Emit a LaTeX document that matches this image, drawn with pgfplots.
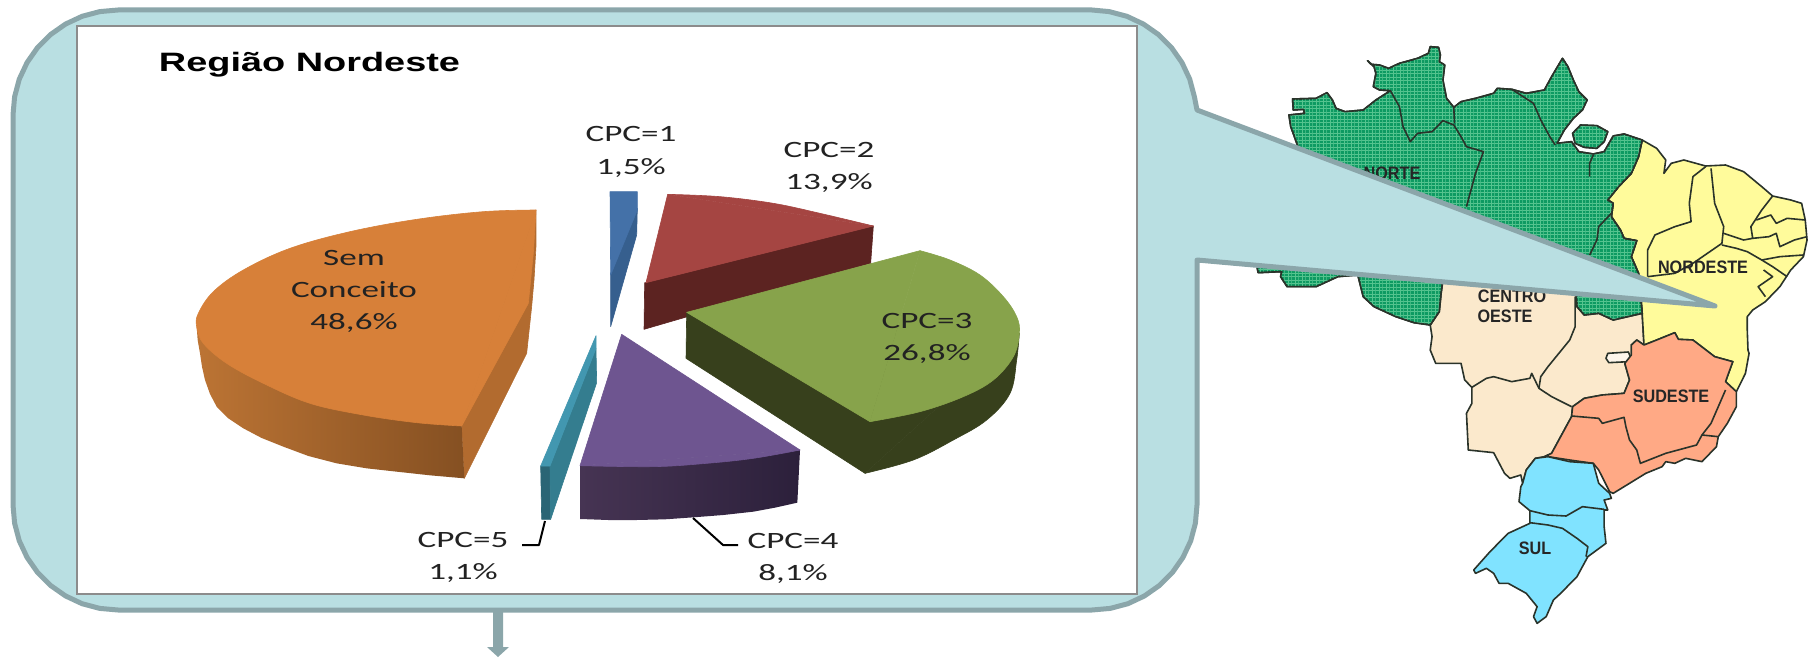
\documentclass[border=0pt]{standalone}
\usepackage{graphicx}
\usepackage{fontspec}
\setmainfont{Carlito}
\newfontfamily\mapfont{Liberation Sans}
\usepackage{pgfplots}
\pgfplotsset{compat=1.18}
\usetikzlibrary{patterns}

% Fine mesh laid over the northern region
\pgfdeclarepatternformonly{minigrid}{\pgfqpoint{-0.1pt}{-0.1pt}}{\pgfqpoint{1.75pt}{1.75pt}}{\pgfqpoint{1.75pt}{1.75pt}}{%
  \pgfsetlinewidth{0.45pt}
  \pgfpathmoveto{\pgfqpoint{0pt}{0pt}}\pgfpathlineto{\pgfqpoint{1.75pt}{0pt}}
  \pgfpathmoveto{\pgfqpoint{0pt}{0pt}}\pgfpathlineto{\pgfqpoint{0pt}{1.75pt}}
  \pgfusepath{stroke}}

\definecolor{calloutfill}{HTML}{B9DFE2}
\definecolor{calloutline}{HTML}{8BA6AA}
\definecolor{framegray}{HTML}{8C8C8C}
\definecolor{ink}{HTML}{222222}
\definecolor{mapline}{HTML}{2A332A}
\definecolor{norte}{HTML}{0E9A62}
\definecolor{nortemesh}{HTML}{56C48F}
\definecolor{nordeste}{HTML}{FFFB9B}
\definecolor{centro}{HTML}{FBE9CC}
\definecolor{sudeste}{HTML}{FFA985}
\definecolor{sul}{HTML}{80E3FF}
\definecolor{semTop}{HTML}{D78039}
\definecolor{semInner}{HTML}{B26B2F}
\definecolor{semSideL}{HTML}{BC7434}
\definecolor{semSideR}{HTML}{855022}
\definecolor{oneTop}{HTML}{4471A8}
\definecolor{oneSide}{HTML}{365F8E}
\definecolor{twoTop}{HTML}{A54542}
\definecolor{twoSide}{HTML}{5C2321}
\definecolor{threeTop}{HTML}{87A34B}
\definecolor{threeSide}{HTML}{37401C}
\definecolor{fourTop}{HTML}{6E5590}
\definecolor{fourSideL}{HTML}{463453}
\definecolor{fourSideR}{HTML}{2C203B}
\definecolor{fiveTop}{HTML}{4297B0}
\definecolor{fiveFace}{HTML}{347D8F}
\definecolor{fiveSide}{HTML}{2A6575}

% Local drawing grids around the origins of the pie and of the map
\pgfplotsset{
  zo/.style={x filter/.expression={x/3+150}, y filter/.expression={y/3+100}},
  zp/.style={x filter/.expression={x/3+520}, y filter/.expression={y/3+100}},
  zn/.style={x filter/.expression={x/2.76+1240}, y filter/.expression={y/3+30}},
  zs/.style={x filter/.expression={x/2.76+1240}, y filter/.expression={y/3+300}},
  border/.style={draw=mapline, line width=0.8pt, fill=none, line join=round},
  area/.style={draw=mapline, line width=0.8pt, line join=round, fill=#1},
  arc/.style={smooth, tension=0.6, draw=#1, line width=0.3pt, fill=#1},
  flat/.style={draw=#1, line width=0.3pt, line join=round, fill=#1},
}
\newcommand{\lab}[3]{\node[anchor=base, text=ink, inner sep=0pt, font=\fontsize{11.7}{12}\selectfont] at (axis cs:#1,#2) {\scalebox{1.5}[1]{#3}};}
\newcommand{\reg}[4]{\node[anchor=center, text=black!85, inner sep=0pt, font=\mapfont\bfseries\fontsize{9}{10}\selectfont] at (axis cs:#1,#2) {\scalebox{#3}[1]{#4}};}

\begin{document}
\begin{tikzpicture}
\path[use as bounding box] (0,0) rectangle (904pt,329pt);
\begin{axis}[
  at={(0,0)}, anchor=south west,
  scale only axis, width=904pt, height=329pt,
  xmin=0, xmax=1808, ymin=0, ymax=658, y dir=reverse,
  hide axis, clip=false,
]
% ---- map of the regions ----
\addplot[zn, area=centro] coordinates {
 (555,740)(555,780)(545,850)(525,885)(530,920)(525,960)(540,1000)(610,1000)(620,1050)(640,1072)(640,1120)(625,1150)(630,1260)(700,1268)(730,1330)(745,1345)(775,1335)(780,1360)(790,1320)(815,1285)(840,1280)(860,1270)(890,1210)(915,1160)(918,1130)(950,1105)(1000,1095)(1060,1090)(1075,1050)(1062,1000)(1080,975)(1080,945)(1095,930)(1115,945)(1110,850)(1110,740)} --cycle;
\addplot[zn, border] coordinates {(925,800)(925,890)(910,930)(880,970)(850,1010)(830,1040)(825,1075)};
\addplot[zn, border] coordinates {(640,1072)(680,1045)(700,1040)(750,1055)(800,1045)(805,1030)(825,1075)(860,1100)(915,1130)};
\addplot[zs, area=centro!40!white] coordinates {(1015,160)(1072,156)(1078,172)(1072,185)(1018,188)(1010,175)} --cycle;

\addplot[zn, area=nordeste] coordinates {
 (1110,330)(1150,355)(1175,390)(1170,430)(1190,400)(1225,390)(1285,408)(1340,405)(1390,425)(1440,470)(1470,498)(1520,510)(1550,520)(1560,570)(1565,630)(1555,680)(1520,720)(1490,770)(1450,815)(1415,840)(1400,860)(1400,900)(1402,960)(1405,970)(1395,1030)(1370,1085)(1340,1055)(1360,995)(1310,980)(1250,930)(1210,928)(1200,908)(1150,930)(1115,945)(1110,850)(1100,730)(1080,680)(1095,632)(1060,625)(1050,600)(1025,560)(1030,520)(1015,510)(1045,470)(1080,430)(1100,380)} --cycle;
\addplot[zn, border] coordinates {(1285,410)(1250,440)(1240,520)(1245,575)(1200,590)(1145,615)(1125,660)(1125,740)};
\addplot[zn, border] coordinates {(1300,415)(1310,520)(1335,590)(1330,640)(1290,670)(1250,700)(1200,730)(1125,740)};
\addplot[zn, border] coordinates {(1335,610)(1390,630)(1415,625)(1410,590)(1440,540)(1470,498)};
\addplot[zn, border] coordinates {(1425,570)(1465,555)(1480,580)(1510,565)(1560,570)};
\addplot[zn, border] coordinates {(1415,625)(1460,620)(1480,610)(1490,650)(1530,630)(1565,620)};
\addplot[zn, border] coordinates {(1330,645)(1370,655)(1400,665)(1440,690)(1490,680)(1555,675)};
\addplot[zn, border] coordinates {(1440,690)(1470,710)(1510,740)};
\addplot[zn, border] coordinates {(1445,720)(1470,740)(1430,770)(1450,800)};

\addplot[zn, area=norte, postaction={pattern=minigrid, pattern color=nortemesh}] coordinates {
 (145,207)(210,205)(240,188)(255,210)(265,235)(290,245)(340,240)(375,210)(415,182)(385,180)(368,170)(375,130)(370,110)(352,92)(362,103)(385,105)(410,115)(440,100)(490,85)(520,70)(525,50)(548,52)(553,75)(550,95)(565,105)(560,150)(570,205)(590,232)(610,215)(650,205)(700,190)(710,175)(750,178)(790,190)(840,180)(860,140)(890,85)(905,110)(920,150)(935,185)(958,210)(945,240)(920,265)(895,300)(875,340)(915,335)(935,365)(975,372)(1005,365)(1030,318)(1060,312)(1110,330)(1100,380)(1080,430)(1045,470)(1015,510)(1030,520)(1025,560)(1050,600)(1060,625)(1095,632)(1080,680)(1100,730)(1110,850)(1070,860)(1030,870)(990,850)(950,855)(930,830)(925,750)(560,750)(555,790)(550,845)(525,885)(480,878)(430,860)(370,830)(340,800)(325,735)(270,740)(210,770)(180,770)(130,770)(112,740)(115,725)(50,728)(45,700)(160,350)(140,290)(135,255)(178,250)(175,238)(147,240)} --cycle;
\addplot[zn, area=norte, postaction={pattern=minigrid, pattern color=nortemesh}] coordinates {
 (918,310)(940,285)(985,287)(1015,305)(1005,335)(985,355)(950,352)(925,340)} --cycle;
\addplot[zn, border] coordinates {(415,182)(440,230)(450,290)(470,335)(490,310)(530,305)(560,272)(590,285)(610,320)(625,350)(672,365)(650,430)(625,530)};
\addplot[zn, border] coordinates {(590,232)(592,280)};
\addplot[zn, border] coordinates {(750,178)(810,220)(830,270)(855,320)(870,345)};
\addplot[zn, border] coordinates {(965,440)(965,400)(975,375)};
\addplot[zn, border] coordinates {(1025,550)(990,590)(985,630)(965,675)};

\addplot[zn, area=sudeste] coordinates {
 (918,1130)(950,1105)(1000,1095)(1060,1090)(1075,1050)(1062,1000)(1080,975)(1080,945)(1095,930)(1115,945)(1150,930)(1200,908)(1210,928)(1250,930)(1310,980)(1360,995)(1340,1055)(1370,1085)(1370,1130)(1345,1180)(1320,1220)(1315,1250)(1275,1295)(1230,1285)(1200,1300)(1175,1295)(1165,1310)(1120,1330)(1060,1370)(1030,1390)(1020,1385)(990,1320)(975,1300)(910,1290)(850,1280)(840,1280)(860,1270)(890,1210)(915,1160)} --cycle;
\addplot[zn, border] coordinates {(915,1158)(990,1165)(1000,1180)(1060,1162)(1065,1190)(1075,1230)(1095,1260)(1105,1300)(1175,1270)(1260,1245)(1275,1215)(1320,1220)};
\addplot[zn, border] coordinates {(1340,1080)(1320,1130)(1300,1180)(1275,1215)};

\addplot[zs, area=sul] coordinates {
 (780,550)(790,510)(815,475)(850,470)(910,485)(975,490)(990,550)(1020,580)(1025,595)(1005,600)(1015,630)(1005,630)(1005,680)(1010,730)(960,770)(930,830)(885,880)(865,900)(845,950)(820,970)(810,950)(820,920)(790,880)(740,850)(715,850)(700,820)(680,805)(650,820)(645,810)(690,755)(740,700)(800,670)(800,632)(770,605)(775,560)} --cycle;
\addplot[zs, border] coordinates {(800,632)(850,645)(900,648)(945,620)(1005,628)};
\addplot[zs, border] coordinates {(800,668)(850,675)(890,685)(930,715)(960,740)(955,770)};

\reg{1392}{173}{0.9}{NORTE}
\reg{1703}{267}{0.9}{NORDESTE}
\reg{1512}{296}{0.9}{CENTRO}
\reg{1505}{316}{0.9}{OESTE}
\reg{1671}{396}{0.9}{SUDESTE}
\reg{1535}{548}{0.9}{SUL}

% ---- arrow below the balloon ----
\addplot[fill=calloutline, draw=none] coordinates {(493,605)(503,605)(503,647)(509,647)(498,657)(487,647)(493,647)} --cycle;

% ---- balloon with its pointer ----
\addplot[fill=calloutfill, draw=calloutline, line width=2.5pt, line join=round] coordinates {
 (13,115)(14.6,96.8)(19.3,79.1)(27.1,62.5)(37.6,47.5)(50.5,34.6)(65.5,24.1)(82.1,16.3)(99.8,11.6)(118,10)
 (1092,10)(1109.2,11.6)(1126.9,16.3)(1143.5,24.1)(1158.5,34.6)(1171.4,47.5)(1181.9,62.5)(1189.7,79.1)(1194.4,96.8)(1197,110)
 (1715,306)(1197,260)
 (1197,505)(1195.4,523.2)(1190.7,540.9)(1182.9,557.5)(1172.4,572.5)(1159.5,585.4)(1144.5,595.9)(1127.9,603.7)(1110.2,608.4)(1092,610)
 (118,610)(99.8,608.4)(82.1,603.7)(65.5,595.9)(50.5,585.4)(37.6,572.5)(27.1,557.5)(19.3,540.9)(14.6,523.2)(13,505)} --cycle;

% ---- chart panel ----
\addplot[fill=white, draw=framegray, line width=1pt] coordinates {(77,26)(1137,26)(1137,594)(77,594)} --cycle;

\node[anchor=base, inner sep=0pt, text=black, font=\mapfont\bfseries\fontsize{13.3}{14}\selectfont] at (axis cs:309.5,72) {\scalebox{1.425}[1]{Região Nordeste}};

% ---- Sem Conceito 48,6%: inner cut, rim, then the top (curved sector and wedge) ----
\addplot[zo, flat=semInner] coordinates {(1158,330)(1158,440)(1152,540)(1145,620)(1130,760)(943,1135)(935,978)} --cycle;
\addplot[zo, left color=semSideL, right color=semSideR, draw=none] coordinates {
 (140,680)(143,720)(150,760)(156,800)(165,840)(180,882)(200,920)(235,955)(280,985)(335,1014)(400,1040)(475,1068)(560,1090)(650,1105)(740,1115)(840,1126)(943,1135)(935,978)} --cycle;
\addplot[zo, arc=semTop] coordinates {
 (1158,330)(1000,335)(800,358)(600,395)(420,445)(280,510)(190,575)(145,640)(140,680)(160,730)(230,790)(340,850)(480,910)(640,945)(800,968)(935,978)};
\addplot[zo, flat=semTop] coordinates {(935,978)(1135,610)(1150,460)(1158,330)} --cycle;

% ---- CPC=1 1,5% ----
\addplot[zp, flat=oneSide] coordinates {(352,325)(350,405)(272,680)(272,520)} --cycle;
\addplot[zp, flat=oneTop] coordinates {(270,275)(352,275)(352,330)(272,525)} --cycle;

% ---- CPC=2 13,9% ----
\addplot[zp, flat=twoSide] coordinates {(378,548)(1060,378)(1052,490)(372,688)(374,548)} --cycle;
\addplot[zp, flat=twoTop] coordinates {(443,283)(1060,378)(378,548)} --cycle;
\addplot[zp, arc=twoTop] coordinates {(443,283)(600,290)(760,310)(900,340)(1060,378)};

% ---- CPC=3 26,8% ----
\addplot[zp, flat=threeSide] coordinates {(500,637)(1498,700)(1035,1120)(498,775)} --cycle;
\addplot[zp, arc=threeSide] coordinates {(1498,700)(1490,780)(1470,880)(1400,960)(1300,1020)(1180,1080)(1035,1120)};
\addplot[zp, flat=threeTop] coordinates {(1200,452)(1050,965)(500,637)} --cycle;
\addplot[zp, arc=threeTop] coordinates {
 (1200,452)(1290,480)(1380,525)(1450,590)(1490,650)(1498,700)(1480,770)(1420,840)(1330,890)(1200,935)(1050,965)};

% ---- CPC=4 8,1% ----
\addplot[zp, left color=fourSideL, right color=fourSideR, draw=none] coordinates {
 (180,1097)(840,1050)(832,1208)(765,1223)(700,1235)(610,1245)(520,1252)(435,1258)(350,1260)(265,1260)(180,1257)} --cycle;
\addplot[zp, flat=fourTop] coordinates {(305,703)(840,1050)(180,1097)} --cycle;
\addplot[zp, arc=fourTop] coordinates {(840,1050)(700,1075)(560,1090)(400,1100)(180,1097)};

% ---- CPC=5 1,1% ----
\addplot[zp, flat=fiveSide] coordinates {(62,1098)(90,1098)(92,1258)(65,1258)} --cycle;
\addplot[zp, flat=fiveFace] coordinates {(90,1098)(228,745)(230,848)(92,1258)} --cycle;
\addplot[zp, flat=fiveTop] coordinates {(62,1098)(228,707)(228,745)(90,1098)} --cycle;

% ---- leader lines ----
\addplot[black, line width=1pt, line join=round] coordinates {(693,518)(723,545)(738,545)};
\addplot[black, line width=1pt, line join=round] coordinates {(545,521)(539,545)(522,545)};

% ---- slice labels ----
\lab{631}{141.5}{CPC=1}
\lab{631}{174.5}{1,5\%}
\lab{829}{157.5}{CPC=2}
\lab{829}{189.5}{13,9\%}
\lab{927}{328.5}{CPC=3}
\lab{927}{360.5}{26,8\%}
\lab{793}{548.5}{CPC=4}
\lab{793}{580.5}{8,1\%}
\lab{463}{547.5}{CPC=5}
\lab{463}{579.5}{1,1\%}
\lab{354}{265}{Sem}
\lab{354}{297}{Conceito}
\lab{354}{329.5}{48,6\%}
\end{axis}
\end{tikzpicture}
\end{document}
